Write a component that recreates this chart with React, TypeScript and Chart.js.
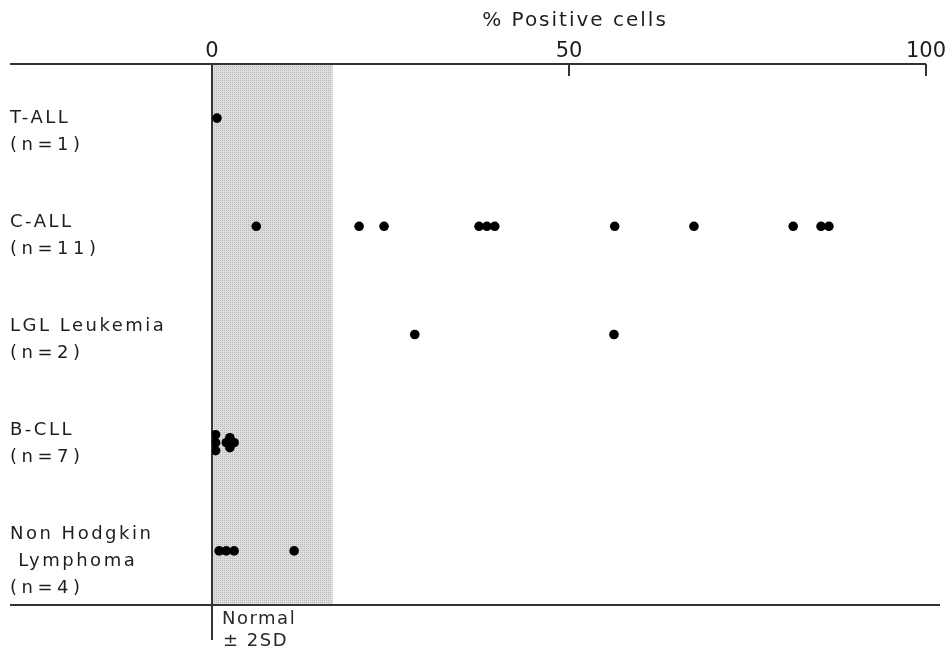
import React, { useEffect, useRef } from "react";
import { Chart, registerables } from "chart.js";

Chart.register(...registerables);

const categories = ["T-ALL", "C-ALL", "LGL Leukemia", "B-CLL", "Non Hodgkin Lymphoma"];
const labelLines = [
  ["T-ALL", "(n=1)"],
  ["C-ALL", "(n=11)"],
  ["LGL Leukemia", "(n=2)"],
  ["B-CLL", "(n=7)"],
  ["Non Hodgkin", " Lymphoma", "(n=4)"],
];
const tAll = [0.7];
const cAll = [6.2, 20.6, 24.1, 37.4, 38.5, 39.6, 56.4, 67.5, 81.4, 85.3, 86.4];
const lgl = [28.4, 56.3];
const bCll = [0.5, 0.5, 0.5, 2.0, 2.5, 2.5, 3.1];
const bCllJitter = [-0.074, 0, 0.074, 0, -0.046, 0.046, 0];
const nhl = [1.0, 2.0, 3.1, 11.5];
const normalRange = [0, 16.9];
const xTicks = [0, 50, 100];
const axisTitle = "% Positive cells";
const normalLabel = ["Normal", "± 2SD"];

const seriesValues = [tAll, cAll, lgl, bCll, nhl];
const seriesJitter: (number[] | null)[] = [null, null, null, bCllJitter, null];

const FONT = "'DejaVu Sans', sans-serif";
const INK = "#1e1e1e";

Chart.defaults.font.family = FONT;

const decorPlugin = {
  id: "decor",
  beforeDatasetsDraw(chart: any) {
    const { ctx, chartArea, scales } = chart;
    const xs = scales.x;
    const x0 = xs.getPixelForValue(normalRange[0]);
    const x1 = xs.getPixelForValue(normalRange[1]);
    const pc = document.createElement("canvas");
    pc.width = 2;
    pc.height = 2;
    const p = pc.getContext("2d")!;
    p.fillStyle = "#dddddd";
    p.fillRect(0, 0, 2, 2);
    p.fillStyle = "#b9b9b9";
    p.fillRect(0, 0, 1, 1);
    ctx.save();
    ctx.fillStyle = ctx.createPattern(pc, "repeat");
    ctx.fillRect(x0, chartArea.top, x1 - x0, chartArea.bottom - chartArea.top);
    ctx.restore();

    ctx.save();
    ctx.strokeStyle = "#333";
    ctx.lineWidth = 2;
    ctx.beginPath();
    const xEnd = xs.getPixelForValue(100);
    ctx.moveTo(10, chartArea.top);
    ctx.lineTo(xEnd, chartArea.top);
    ctx.moveTo(xs.getPixelForValue(50), chartArea.top);
    ctx.lineTo(xs.getPixelForValue(50), chartArea.top + 12);
    ctx.moveTo(xEnd, chartArea.top);
    ctx.lineTo(xEnd, chartArea.top + 12);
    ctx.moveTo(10, chartArea.bottom);
    ctx.lineTo(940, chartArea.bottom);
    const xz = xs.getPixelForValue(0);
    ctx.moveTo(xz, chartArea.top);
    ctx.lineTo(xz, chartArea.bottom + 35);
    ctx.stroke();
    ctx.restore();
  },
  afterDraw(chart: any) {
    const { ctx, chartArea, scales } = chart;
    const ys = scales.y;
    const xs = scales.x;
    ctx.save();
    ctx.fillStyle = INK;
    ctx.textBaseline = "middle";

    ctx.font = `20px ${FONT}`;
    (ctx as any).letterSpacing = "2px";
    ctx.textAlign = "center";
    ctx.fillText(axisTitle, (xs.left + xs.right) / 2 + 6, 21);

    ctx.font = `18px ${FONT}`;
    ctx.textAlign = "left";
    labelLines.forEach((lines, i) => {
      const yTop = ys.getPixelForValue(0) + i * 104;
      lines.forEach((t, j) => {
        const isN = t.startsWith("(");
        (ctx as any).letterSpacing = isN ? "4.5px" : "2.5px";
        ctx.fillText(t, 10, yTop + j * 27);
      });
    });

    const xz = xs.getPixelForValue(0);
    ctx.fillStyle = "#2a2a2a";
    (ctx as any).letterSpacing = "1.5px";
    ctx.font = `18px ${FONT}`;
    ctx.fillText(normalLabel[0], xz + 10, chartArea.bottom + 14);
    ctx.fillText(normalLabel[1], xz + 11, chartArea.bottom + 36);
    ctx.restore();
  },
};

export default function App() {
  const ref = useRef<HTMLCanvasElement>(null);
  useEffect(() => {
    const datasets = seriesValues.map((vals, i) => ({
      label: categories[i],
      data: vals.map((v, k) => ({ x: v, y: i + (seriesJitter[i] ? seriesJitter[i]![k] : 0) })),
      backgroundColor: "#000",
      borderColor: "#000",
      borderWidth: 0,
      pointRadius: 4.8,
    }));
    const chart = new Chart(ref.current!, {
      type: "scatter",
      data: { datasets },
      plugins: [decorPlugin],
      options: {
        animation: false,
        responsive: false,
        layout: { padding: { left: 212, right: 25, top: 0, bottom: 46 } },
        plugins: { legend: { display: false }, tooltip: { enabled: false } },
        scales: {
          x: {
            type: "linear",
            position: "top",
            min: 0,
            max: 100,
            afterBuildTicks: (s: any) => {
              s.ticks = xTicks.map((v) => ({ value: v }));
            },
            afterFit: (s: any) => {
              s.height = 64;
            },
            grid: { display: false },
            border: { display: false },
            ticks: {
              color: INK,
              font: { family: FONT, size: 21 },
              padding: -8,
              maxRotation: 0,
            },
            title: { display: false },
          },
          y: {
            type: "linear",
            min: -0.5,
            max: 4.5,
            reverse: true,
            display: false,
          },
        },
      },
    });
    return () => chart.destroy();
  }, []);
  return (
    <div style={{ position: "fixed", left: 0, top: 0, width: 951, height: 651, background: "#fff" }}>
      <canvas ref={ref} width={951} height={651} />
    </div>
  );
}
